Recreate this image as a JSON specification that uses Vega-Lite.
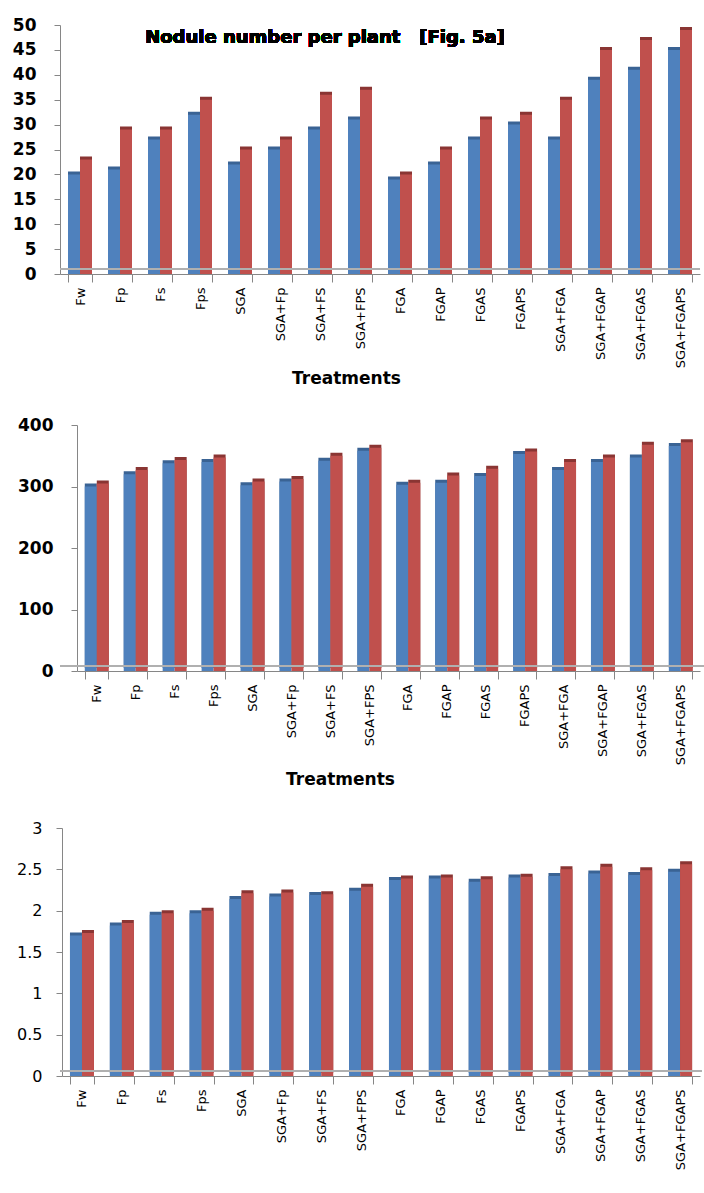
{
  "$schema": "https://vega.github.io/schema/vega-lite/v6.json",
  "padding": {"left": 0, "top": 16, "right": 0, "bottom": 0},
  "background": "white",
  "config": {"view": {"stroke": null}, "font": "DejaVu Sans"},
  "spacing": 30,
  "datasets": {
    "nodules": [
      {"treatment": "Fw", "series": "S1", "value": 20}, {"treatment": "Fw", "series": "S2", "value": 23},
      {"treatment": "Fp", "series": "S1", "value": 21}, {"treatment": "Fp", "series": "S2", "value": 29},
      {"treatment": "Fs", "series": "S1", "value": 27}, {"treatment": "Fs", "series": "S2", "value": 29},
      {"treatment": "Fps", "series": "S1", "value": 32}, {"treatment": "Fps", "series": "S2", "value": 35},
      {"treatment": "SGA", "series": "S1", "value": 22}, {"treatment": "SGA", "series": "S2", "value": 25},
      {"treatment": "SGA+Fp", "series": "S1", "value": 25}, {"treatment": "SGA+Fp", "series": "S2", "value": 27},
      {"treatment": "SGA+FS", "series": "S1", "value": 29}, {"treatment": "SGA+FS", "series": "S2", "value": 36},
      {"treatment": "SGA+FPS", "series": "S1", "value": 31}, {"treatment": "SGA+FPS", "series": "S2", "value": 37},
      {"treatment": "FGA", "series": "S1", "value": 19}, {"treatment": "FGA", "series": "S2", "value": 20},
      {"treatment": "FGAP", "series": "S1", "value": 22}, {"treatment": "FGAP", "series": "S2", "value": 25},
      {"treatment": "FGAS", "series": "S1", "value": 27}, {"treatment": "FGAS", "series": "S2", "value": 31},
      {"treatment": "FGAPS", "series": "S1", "value": 30}, {"treatment": "FGAPS", "series": "S2", "value": 32},
      {"treatment": "SGA+FGA", "series": "S1", "value": 27}, {"treatment": "SGA+FGA", "series": "S2", "value": 35},
      {"treatment": "SGA+FGAP", "series": "S1", "value": 39}, {"treatment": "SGA+FGAP", "series": "S2", "value": 45},
      {"treatment": "SGA+FGAS", "series": "S1", "value": 41}, {"treatment": "SGA+FGAS", "series": "S2", "value": 47},
      {"treatment": "SGA+FGAPS", "series": "S1", "value": 45}, {"treatment": "SGA+FGAPS", "series": "S2", "value": 49}
    ],
    "middle": [
      {"treatment": "Fw", "series": "S1", "value": 300}, {"treatment": "Fw", "series": "S2", "value": 305},
      {"treatment": "Fp", "series": "S1", "value": 320}, {"treatment": "Fp", "series": "S2", "value": 327},
      {"treatment": "Fs", "series": "S1", "value": 338}, {"treatment": "Fs", "series": "S2", "value": 343},
      {"treatment": "Fps", "series": "S1", "value": 340}, {"treatment": "Fps", "series": "S2", "value": 347},
      {"treatment": "SGA", "series": "S1", "value": 302}, {"treatment": "SGA", "series": "S2", "value": 308},
      {"treatment": "SGA+Fp", "series": "S1", "value": 308}, {"treatment": "SGA+Fp", "series": "S2", "value": 312},
      {"treatment": "SGA+FS", "series": "S1", "value": 342}, {"treatment": "SGA+FS", "series": "S2", "value": 350},
      {"treatment": "SGA+FPS", "series": "S1", "value": 358}, {"treatment": "SGA+FPS", "series": "S2", "value": 363},
      {"treatment": "FGA", "series": "S1", "value": 303}, {"treatment": "FGA", "series": "S2", "value": 306},
      {"treatment": "FGAP", "series": "S1", "value": 306}, {"treatment": "FGAP", "series": "S2", "value": 318},
      {"treatment": "FGAS", "series": "S1", "value": 317}, {"treatment": "FGAS", "series": "S2", "value": 329},
      {"treatment": "FGAPS", "series": "S1", "value": 353}, {"treatment": "FGAPS", "series": "S2", "value": 357},
      {"treatment": "SGA+FGA", "series": "S1", "value": 327}, {"treatment": "SGA+FGA", "series": "S2", "value": 340},
      {"treatment": "SGA+FGAP", "series": "S1", "value": 340}, {"treatment": "SGA+FGAP", "series": "S2", "value": 347},
      {"treatment": "SGA+FGAS", "series": "S1", "value": 347}, {"treatment": "SGA+FGAS", "series": "S2", "value": 368},
      {"treatment": "SGA+FGAPS", "series": "S1", "value": 366}, {"treatment": "SGA+FGAPS", "series": "S2", "value": 372}
    ],
    "lower": [
      {"treatment": "Fw", "series": "S1", "value": 1.70}, {"treatment": "Fw", "series": "S2", "value": 1.73},
      {"treatment": "Fp", "series": "S1", "value": 1.82}, {"treatment": "Fp", "series": "S2", "value": 1.85},
      {"treatment": "Fs", "series": "S1", "value": 1.95}, {"treatment": "Fs", "series": "S2", "value": 1.97},
      {"treatment": "Fps", "series": "S1", "value": 1.97}, {"treatment": "Fps", "series": "S2", "value": 2.00},
      {"treatment": "SGA", "series": "S1", "value": 2.14}, {"treatment": "SGA", "series": "S2", "value": 2.21},
      {"treatment": "SGA+Fp", "series": "S1", "value": 2.17}, {"treatment": "SGA+Fp", "series": "S2", "value": 2.22},
      {"treatment": "SGA+FS", "series": "S1", "value": 2.19}, {"treatment": "SGA+FS", "series": "S2", "value": 2.20},
      {"treatment": "SGA+FPS", "series": "S1", "value": 2.24}, {"treatment": "SGA+FPS", "series": "S2", "value": 2.29},
      {"treatment": "FGA", "series": "S1", "value": 2.37}, {"treatment": "FGA", "series": "S2", "value": 2.39},
      {"treatment": "FGAP", "series": "S1", "value": 2.39}, {"treatment": "FGAP", "series": "S2", "value": 2.40},
      {"treatment": "FGAS", "series": "S1", "value": 2.35}, {"treatment": "FGAS", "series": "S2", "value": 2.38},
      {"treatment": "FGAPS", "series": "S1", "value": 2.40}, {"treatment": "FGAPS", "series": "S2", "value": 2.41},
      {"treatment": "SGA+FGA", "series": "S1", "value": 2.42}, {"treatment": "SGA+FGA", "series": "S2", "value": 2.50},
      {"treatment": "SGA+FGAP", "series": "S1", "value": 2.45}, {"treatment": "SGA+FGAP", "series": "S2", "value": 2.53},
      {"treatment": "SGA+FGAS", "series": "S1", "value": 2.43}, {"treatment": "SGA+FGAS", "series": "S2", "value": 2.49},
      {"treatment": "SGA+FGAPS", "series": "S1", "value": 2.47}, {"treatment": "SGA+FGAPS", "series": "S2", "value": 2.56}
    ]
  },
  "vconcat": [
    {
      "width": 640,
      "height": 249,
      "data": {"name": "nodules"},
      "resolve": {"scale": {"color": "independent"}},
      "layer": [
        {
          "mark": {"type": "bar", "xOffset": 3, "yOffset": -3},
          "encoding": {
            "x": {"field": "treatment", "type": "nominal", "sort": null, "scale": {"paddingInner": 0.4, "paddingOuter": 0.2},
              "axis": {"title": "Treatments", "labelAngle": -90, "labelFontSize": 13, "labelColor": "#000", "labelPadding": 5,
                "domainColor": "#868686", "tickColor": "#868686", "tickBand": "extent", "tickSize": 8,
                "titleFontSize": 17, "titleFontWeight": "bold", "titleColor": "#000", "titleX": 286, "titleY": 96, "titleBaseline": "top", "titleAlign": "center"}},
            "xOffset": {"field": "series", "type": "nominal", "scale": {"paddingInner": 0, "paddingOuter": 0}},
            "y": {"field": "value", "type": "quantitative", "scale": {"domain": [0, 50]},
              "axis": {"title": null, "values": [0, 5, 10, 15, 20, 25, 30, 35, 40, 45, 50], "labelOverlap": false, "grid": false, "domainColor": "#868686", "tickColor": "#868686",
                "tickSize": 6, "labelPadding": 18, "labelFontSize": 17, "labelFontWeight": "bold", "labelColor": "#000", "minExtent": 60, "maxExtent": 60}},
            "color": {"field": "series", "type": "nominal", "legend": null, "scale": {"domain": ["S1", "S2"], "range": ["#3a6394", "#8a3533"]}}
          }
        },
        {
          "mark": {"type": "bar"},
          "encoding": {
            "x": {"field": "treatment", "type": "nominal", "sort": null},
            "xOffset": {"field": "series", "type": "nominal"},
            "y": {"field": "value", "type": "quantitative",
              "axis": {"title": null, "values": [0, 5, 10, 15, 20, 25, 30, 35, 40, 45, 50], "labelOverlap": false, "grid": false, "domainColor": "#868686", "tickColor": "#868686",
                "tickSize": 6, "labelPadding": 18, "labelFontSize": 17, "labelFontWeight": "bold", "labelColor": "#000", "minExtent": 60, "maxExtent": 60}},
            "color": {"field": "series", "type": "nominal", "legend": null, "scale": {"domain": ["S1", "S2"], "range": ["#4f81bd", "#c0504d"]}}
          }
        },
        {
          "mark": {"type": "rule", "color": "#b0b0b0", "yOffset": -5, "strokeWidth": 1.5},
          "encoding": {"y": {"datum": 0, "type": "quantitative",
            "axis": {"title": null, "values": [0, 5, 10, 15, 20, 25, 30, 35, 40, 45, 50], "labelOverlap": false, "grid": false, "domainColor": "#868686", "tickColor": "#868686",
              "tickSize": 6, "labelPadding": 18, "labelFontSize": 17, "labelFontWeight": "bold", "labelColor": "#000", "minExtent": 60, "maxExtent": 60}}}
        },
        {
          "mark": {"type": "text", "text": "Nodule number per plant\u00a0\u00a0\u00a0[Fig. 5a]", "fontSize": 18, "fontWeight": "bold", "fill": "#000", "align": "center", "baseline": "middle", "dx": -55},
          "encoding": {"y": {"datum": 47.4, "type": "quantitative",
            "axis": {"title": null, "values": [0, 5, 10, 15, 20, 25, 30, 35, 40, 45, 50], "labelOverlap": false, "grid": false, "domainColor": "#868686", "tickColor": "#868686",
              "tickSize": 6, "labelPadding": 18, "labelFontSize": 17, "labelFontWeight": "bold", "labelColor": "#000", "minExtent": 60, "maxExtent": 60}}}
        }
      ]
    },
    {
      "spacing": 33,
      "vconcat": [
        {
          "width": 640,
          "height": 246,
          "data": {"name": "middle"},
          "resolve": {"scale": {"color": "independent"}},
          "layer": [
            {
              "mark": {"type": "bar", "xOffset": 3, "yOffset": -3},
              "encoding": {
                "x": {"field": "treatment", "type": "nominal", "sort": null, "scale": {"range": [17, 640], "paddingInner": 0.4, "paddingOuter": 0.2},
                  "axis": {"title": "Treatments", "labelAngle": -90, "labelFontSize": 13, "labelColor": "#000", "labelPadding": 5,
                    "domainColor": "#868686", "tickColor": "#868686", "tickBand": "extent", "tickSize": 8,
                    "titleFontSize": 17, "titleFontWeight": "bold", "titleColor": "#000", "titleX": 280, "titleY": 100, "titleBaseline": "top", "titleAlign": "center"}},
                "xOffset": {"field": "series", "type": "nominal", "scale": {"paddingInner": 0, "paddingOuter": 0}},
                "y": {"field": "value", "type": "quantitative", "scale": {"domain": [0, 400]},
                  "axis": {"title": null, "offset": -17, "values": [0, 100, 200, 300, 400], "labelOverlap": false, "grid": false, "domainColor": "#868686", "tickColor": "#868686",
                    "tickSize": 6, "labelPadding": 18, "labelFontSize": 17, "labelFontWeight": "bold", "labelColor": "#000", "minExtent": 60, "maxExtent": 60}},
                "color": {"field": "series", "type": "nominal", "legend": null, "scale": {"domain": ["S1", "S2"], "range": ["#3a6394", "#8a3533"]}}
              }
            },
            {
              "mark": {"type": "bar"},
              "encoding": {
                "x": {"field": "treatment", "type": "nominal", "sort": null},
                "xOffset": {"field": "series", "type": "nominal"},
                "y": {"field": "value", "type": "quantitative",
                  "axis": {"title": null, "offset": -17, "values": [0, 100, 200, 300, 400], "labelOverlap": false, "grid": false, "domainColor": "#868686", "tickColor": "#868686",
                    "tickSize": 6, "labelPadding": 18, "labelFontSize": 17, "labelFontWeight": "bold", "labelColor": "#000", "minExtent": 60, "maxExtent": 60}},
                "color": {"field": "series", "type": "nominal", "legend": null, "scale": {"domain": ["S1", "S2"], "range": ["#4f81bd", "#c0504d"]}}
              }
            },
            {
              "mark": {"type": "rule", "color": "#b0b0b0", "yOffset": -5, "xOffset": 17, "strokeWidth": 1.5},
              "encoding": {"y": {"datum": 0, "type": "quantitative",
                "axis": {"title": null, "offset": -17, "values": [0, 100, 200, 300, 400], "labelOverlap": false, "grid": false, "domainColor": "#868686", "tickColor": "#868686",
                  "tickSize": 6, "labelPadding": 18, "labelFontSize": 17, "labelFontWeight": "bold", "labelColor": "#000", "minExtent": 60, "maxExtent": 60}}}
            }
          ]
        },
        {
          "width": 640,
          "height": 248,
          "data": {"name": "lower"},
          "resolve": {"scale": {"color": "independent"}},
          "layer": [
            {
              "mark": {"type": "bar", "xOffset": 3, "yOffset": -3},
              "encoding": {
                "x": {"field": "treatment", "type": "nominal", "sort": null, "scale": {"range": [2, 640], "paddingInner": 0.4, "paddingOuter": 0.2},
                  "axis": {"title": null, "labelAngle": -90, "labelFontSize": 13, "labelColor": "#000", "labelPadding": 5,
                    "domainColor": "#868686", "tickColor": "#868686", "tickBand": "extent", "tickSize": 8}},
                "xOffset": {"field": "series", "type": "nominal", "scale": {"paddingInner": 0, "paddingOuter": 0}},
                "y": {"field": "value", "type": "quantitative", "scale": {"domain": [0, 3]},
                  "axis": {"title": null, "offset": -2, "values": [0, 0.5, 1, 1.5, 2, 2.5, 3], "labelOverlap": false, "format": "~g", "grid": false, "domainColor": "#868686", "tickColor": "#868686",
                    "tickSize": 6, "labelPadding": 14, "labelFontSize": 16, "labelColor": "#000", "minExtent": 60, "maxExtent": 60}},
                "color": {"field": "series", "type": "nominal", "legend": null, "scale": {"domain": ["S1", "S2"], "range": ["#3a6394", "#8a3533"]}}
              }
            },
            {
              "mark": {"type": "bar"},
              "encoding": {
                "x": {"field": "treatment", "type": "nominal", "sort": null},
                "xOffset": {"field": "series", "type": "nominal"},
                "y": {"field": "value", "type": "quantitative",
                  "axis": {"title": null, "offset": -2, "values": [0, 0.5, 1, 1.5, 2, 2.5, 3], "labelOverlap": false, "format": "~g", "grid": false, "domainColor": "#868686", "tickColor": "#868686",
                    "tickSize": 6, "labelPadding": 14, "labelFontSize": 16, "labelColor": "#000", "minExtent": 60, "maxExtent": 60}},
                "color": {"field": "series", "type": "nominal", "legend": null, "scale": {"domain": ["S1", "S2"], "range": ["#4f81bd", "#c0504d"]}}
              }
            },
            {
              "mark": {"type": "rule", "color": "#b0b0b0", "yOffset": -5, "xOffset": 2, "strokeWidth": 1.5},
              "encoding": {"y": {"datum": 0, "type": "quantitative",
                "axis": {"title": null, "offset": -2, "values": [0, 0.5, 1, 1.5, 2, 2.5, 3], "labelOverlap": false, "format": "~g", "grid": false, "domainColor": "#868686", "tickColor": "#868686",
                  "tickSize": 6, "labelPadding": 14, "labelFontSize": 16, "labelColor": "#000", "minExtent": 60, "maxExtent": 60}}}
            }
          ]
        }
      ]
    }
  ]
}
